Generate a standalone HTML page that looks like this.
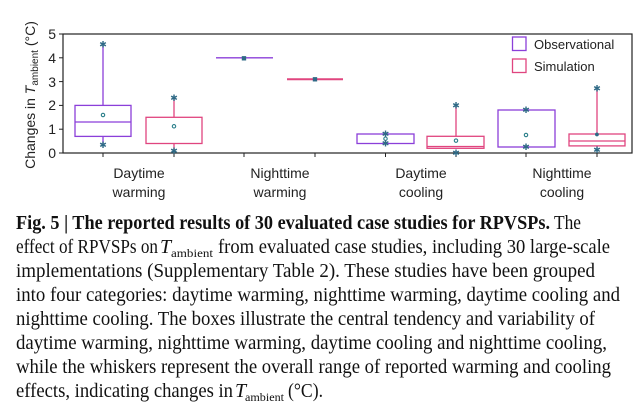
<!DOCTYPE html>
<html><head><meta charset="utf-8"><style>
html,body{margin:0;padding:0;background:#fff;width:641px;height:411px;overflow:hidden}
</style></head><body>
<svg width="641" height="411" viewBox="0 0 641 411" xmlns="http://www.w3.org/2000/svg" font-family="Liberation Sans, sans-serif">
<rect x="63" y="34" width="569" height="119" fill="none" stroke="#222" stroke-width="1.2"/>
<g stroke="#222" stroke-width="1">
<line x1="59" y1="34" x2="63" y2="34"/><line x1="59" y1="57.8" x2="63" y2="57.8"/><line x1="59" y1="81.6" x2="63" y2="81.6"/>
<line x1="59" y1="105.4" x2="63" y2="105.4"/><line x1="59" y1="129.2" x2="63" y2="129.2"/><line x1="59" y1="153" x2="63" y2="153"/>
<line x1="103" y1="153" x2="103" y2="157"/><line x1="174" y1="153" x2="174" y2="157"/><line x1="244" y1="153" x2="244" y2="157"/>
<line x1="315" y1="153" x2="315" y2="157"/><line x1="385.5" y1="153" x2="385.5" y2="157"/><line x1="456" y1="153" x2="456" y2="157"/>
<line x1="526" y1="153" x2="526" y2="157"/><line x1="597" y1="153" x2="597" y2="157"/>
</g>
<g font-size="14" fill="#222" text-anchor="end">
<text x="56" y="39">5</text><text x="56" y="63">4</text><text x="56" y="87">3</text><text x="56" y="110">2</text><text x="56" y="134">1</text><text x="56" y="158">0</text>
</g>
<text transform="translate(35,95) rotate(-90)" font-size="14" fill="#222" text-anchor="middle">Changes in <tspan font-style="italic">T</tspan><tspan font-size="10" dy="3">ambient</tspan><tspan dy="-3"> (°C)</tspan></text>
<g font-size="14" fill="#222" text-anchor="middle">
<text x="139" y="178">Daytime</text><text x="139" y="197">warming</text>
<text x="280" y="178">Nighttime</text><text x="280" y="197">warming</text>
<text x="421" y="178">Daytime</text><text x="421" y="197">cooling</text>
<text x="562" y="178">Nighttime</text><text x="562" y="197">cooling</text>
</g>
<g stroke="#8b3fd9" stroke-width="1.3" fill="none">
<line x1="103" y1="44.5" x2="103" y2="105.4"/><line x1="103" y1="136.3" x2="103" y2="145"/>
<rect x="75" y="105.4" width="56" height="31"/><line x1="75" y1="122" x2="131" y2="122"/>
<line x1="216" y1="57.8" x2="273" y2="57.8"/>
<rect x="357" y="134" width="57" height="9.5"/>
<rect x="498" y="110" width="57" height="37"/>
</g>
<g stroke="#e0457f" stroke-width="1.3" fill="none">
<line x1="174" y1="98.3" x2="174" y2="117.3"/><line x1="174" y1="143.5" x2="174" y2="150.6"/>
<rect x="146" y="117.3" width="56" height="26.2"/>
<line x1="287" y1="79.2" x2="343" y2="79.2" stroke-width="2"/>
<line x1="456" y1="105.4" x2="456" y2="136.3"/>
<rect x="427" y="136.3" width="57" height="12"/><line x1="427" y1="146.5" x2="484" y2="146.5"/>
<line x1="597" y1="88.7" x2="597" y2="134"/>
<rect x="569" y="134" width="56" height="11.9"/><line x1="569" y1="141" x2="625" y2="141"/>
</g>
<g fill="none" stroke="#2a7f8a" stroke-width="1.1">
<circle cx="103" cy="115" r="1.7"/><circle cx="174" cy="126.3" r="1.7"/><circle cx="385.5" cy="138.7" r="1.7"/>
<circle cx="456" cy="140.6" r="1.7"/><circle cx="526" cy="135" r="1.7"/>
</g>
<g fill="#2f6a86" font-size="9" text-anchor="middle">
<text x="103" y="47.5">✱</text><text x="103" y="148">✱</text><text x="174" y="101">✱</text><text x="174" y="154">✱</text>
<text x="244" y="60.8">■</text><text x="315" y="82.2">■</text>
<text x="385.5" y="137">✱</text><text x="385.5" y="146.5">✱</text><text x="456" y="108.4">✱</text><text x="456" y="156">✱</text>
<text x="526" y="113">✱</text><text x="526" y="150">✱</text><text x="597" y="91.7">✱</text><text x="597" y="137">●</text><text x="597" y="153">✱</text>
</g>
<rect x="512.5" y="37" width="13.5" height="13.5" fill="none" stroke="#8b3fd9" stroke-width="1.3"/>
<rect x="512.5" y="59" width="13.5" height="13.5" fill="none" stroke="#e0457f" stroke-width="1.3"/>
<g font-size="13" fill="#222"><text x="534" y="49">Observational</text><text x="534" y="71">Simulation</text></g>
<g font-family="Liberation Serif, serif" font-size="20" fill="#111">
<text x="16" y="229" font-weight="bold" textLength="534" lengthAdjust="spacingAndGlyphs">Fig. 5 | The reported results of 30 evaluated case studies for RPVSPs.</text>
<text x="554" y="229" textLength="27" lengthAdjust="spacingAndGlyphs">The</text>
<text x="16" y="253" textLength="142" lengthAdjust="spacingAndGlyphs">effect of RPVSPs on</text>
<text x="160" y="253" font-style="italic">T</text>
<text x="171" y="257" font-size="12" textLength="42" lengthAdjust="spacingAndGlyphs">ambient</text>
<text x="218" y="253" textLength="392" lengthAdjust="spacingAndGlyphs">from evaluated case studies, including 30 large-scale</text>
<text x="16" y="277" textLength="579" lengthAdjust="spacingAndGlyphs">implementations (Supplementary Table 2). These studies have been grouped</text>
<text x="16" y="301" textLength="604" lengthAdjust="spacingAndGlyphs">into four categories: daytime warming, nighttime warming, daytime cooling and</text>
<text x="16" y="325" textLength="579" lengthAdjust="spacingAndGlyphs">nighttime cooling. The boxes illustrate the central tendency and variability of</text>
<text x="16" y="349" textLength="591" lengthAdjust="spacingAndGlyphs">daytime warming, nighttime warming, daytime cooling and nighttime cooling,</text>
<text x="16" y="373" textLength="595" lengthAdjust="spacingAndGlyphs">while the whiskers represent the overall range of reported warming and cooling</text>
<text x="16" y="397" textLength="217" lengthAdjust="spacingAndGlyphs">effects, indicating changes in</text>
<text x="235" y="397" font-style="italic">T</text>
<text x="245" y="401" font-size="12" textLength="39" lengthAdjust="spacingAndGlyphs">ambient</text>
<text x="288" y="397" textLength="35" lengthAdjust="spacingAndGlyphs">(°C).</text>
</g>
</svg>
</body></html>
